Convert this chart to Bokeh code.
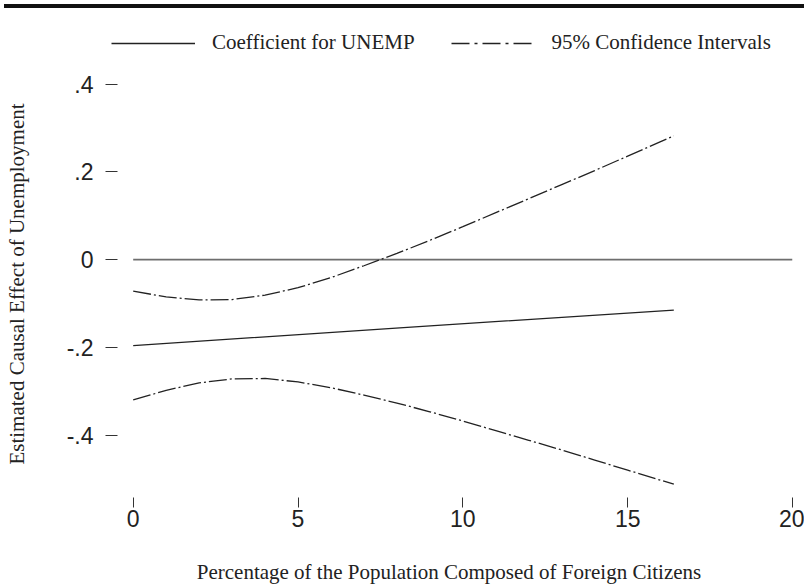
from bokeh.plotting import figure
from bokeh.layouts import column
from bokeh.models import Range1d, FixedTicker, Legend, LegendItem, Div
from bokeh.embed import file_html
from bokeh.resources import INLINE

# ---- data ----
coef_x = [0.0, 8.2, 16.4]
coef_y = [-0.196, -0.155, -0.115]

ci_x = [0, 1, 2, 3, 4, 5, 6, 7, 8, 9, 10, 11, 12, 13, 14, 15, 16, 16.4]
ci_upper = [-0.072, -0.085, -0.092, -0.091, -0.081, -0.064, -0.041, -0.014, 0.014,
            0.044, 0.075, 0.107, 0.139, 0.171, 0.203, 0.236, 0.269, 0.282]
ci_lower = [-0.320, -0.298, -0.281, -0.272, -0.271, -0.279, -0.292, -0.309, -0.327,
            -0.347, -0.368, -0.390, -0.412, -0.434, -0.457, -0.480, -0.503, -0.512]

zero_x = [0, 20]
zero_y = [0, 0]

x_ticks = [0, 5, 10, 15, 20]
y_ticks = [0.4, 0.2, 0.0, -0.2, -0.4]
y_tick_labels = [".4", ".2", "0", "-.2", "-.4"]

legend_labels = ["Coefficient for UNEMP", "95% Confidence Intervals"]
x_title = "Percentage of the Population Composed of Foreign Citizens"
y_title = "Estimated Causal Effect of Unemployment"

SERIF = "Liberation Serif"
SANS = "Liberation Sans"
INK = "#222222"
CI_DASH = "18 3 2 3"

# ---------------- main plot ----------------
p = figure(width=804, height=526, output_backend="svg", toolbar_location=None,
           x_range=Range1d(-0.840, 20.0), y_range=Range1d(-0.5424, 0.4312),
           min_border_left=105, min_border_right=12, min_border_top=10,
           min_border_bottom=87)
p.outline_line_color = None
p.grid.visible = False
p.background_fill_color = "white"
p.border_fill_color = "white"

p.line(zero_x, zero_y, line_color="#6e6e6e", line_width=1.6)
p.line(coef_x, coef_y, line_color=INK, line_width=1.3)
p.line(ci_x, ci_upper, line_color=INK, line_width=1.3, line_dash=CI_DASH)
p.line(ci_x, ci_lower, line_color=INK, line_width=1.3, line_dash=CI_DASH)

for ax in (p.xaxis, p.yaxis):
    ax.axis_line_color = None
    ax.minor_tick_line_color = None
    ax.major_tick_line_color = "#333333"
    ax.major_label_text_font = SANS
    ax.major_label_text_font_size = "23px"
    ax.major_label_text_color = INK
    ax.axis_label_text_font = SERIF
    ax.axis_label_text_font_size = "21px"
    ax.axis_label_text_font_style = "normal"
    ax.axis_label_text_color = INK

p.xaxis.ticker = FixedTicker(ticks=x_ticks)
p.xaxis.major_tick_in = 0
p.xaxis.major_tick_out = 10
p.xaxis.major_label_standoff = 2
p.xaxis.axis_label = x_title
p.xaxis.axis_label_standoff = 30

p.yaxis.ticker = FixedTicker(ticks=y_ticks)
p.yaxis.major_label_overrides = {t: l for t, l in zip(y_ticks, y_tick_labels)}
p.yaxis.major_tick_in = 12
p.yaxis.major_tick_out = 0
p.yaxis.major_label_standoff = 12
p.yaxis.axis_label = y_title
p.yaxis.axis_label_standoff = 35

# ---------------- legend strip ----------------
lg = figure(width=804, height=52, output_backend="svg", toolbar_location=None,
            x_axis_type=None, y_axis_type=None,
            x_range=Range1d(0, 1), y_range=Range1d(0, 1),
            min_border_left=0, min_border_right=0, min_border_top=0,
            min_border_bottom=0)
lg.outline_line_color = None
lg.grid.visible = False
lg.border_fill_color = "white"

leg_solid = lg.line(coef_x, coef_y, line_color=INK, line_width=1.3, visible=False)
leg_dash = lg.line(ci_x, ci_upper, line_color=INK, line_width=1.3,
                   line_dash="18 5 3 5", visible=False)

legend = Legend(items=[LegendItem(label=legend_labels[0], renderers=[leg_solid]),
                       LegendItem(label=legend_labels[1], renderers=[leg_dash])],
                orientation="horizontal", location=(6, 5),
                glyph_width=84, glyph_height=20, label_height=20,
                label_standoff=17, spacing=36,
                padding=0, margin=0, border_line_color=None,
                background_fill_alpha=0,
                label_text_font=SERIF, label_text_font_size="21px",
                label_text_color=INK)
lg.add_layout(legend)

# thick rule across the top of the page
rule = Div(text="", width=800, height=4, margin=(4, 0, 0, 4),
           styles={"background-color": "#111111"})

layout = column(rule, lg, p, spacing=0)

open("out.html", "w").write(file_html(layout, INLINE))
